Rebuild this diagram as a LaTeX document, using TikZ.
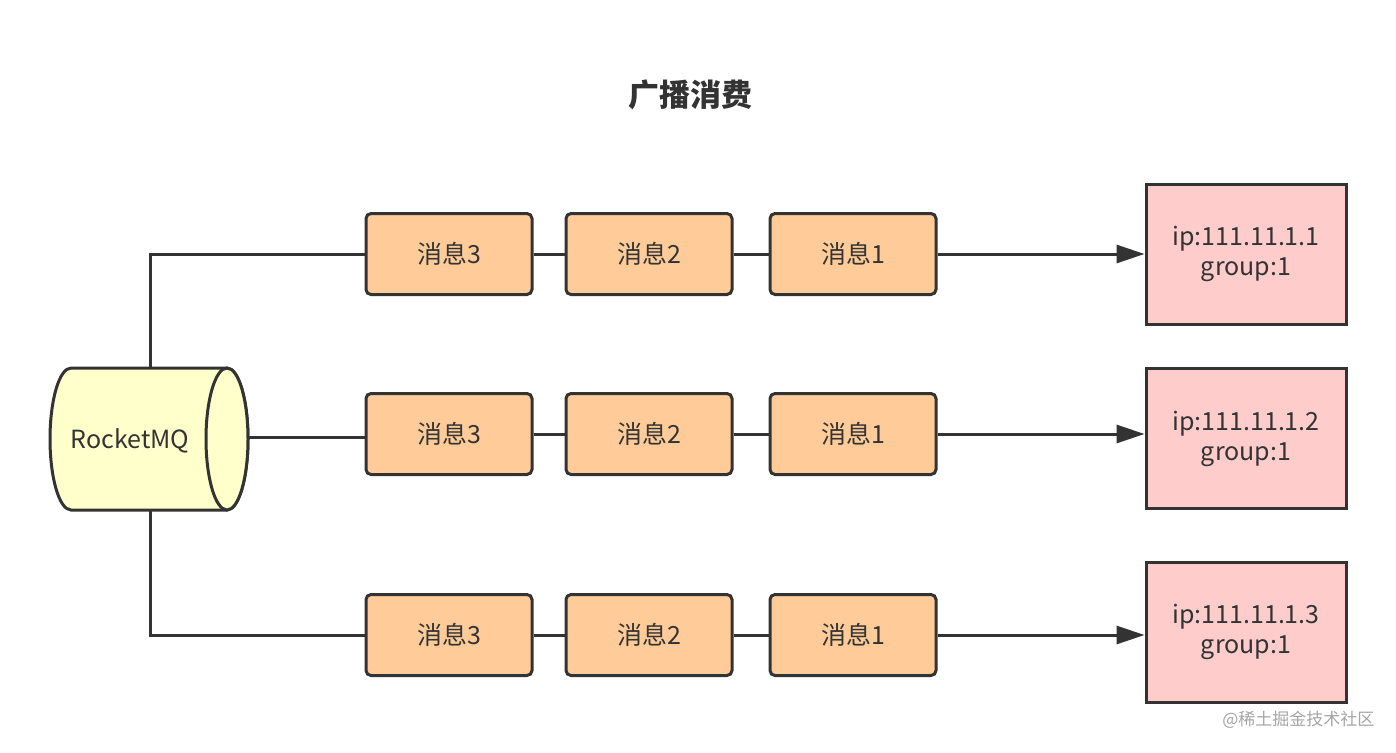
\documentclass[tikz,border=0pt]{standalone}
\usepackage{fontspec}
\setmainfont{Noto Sans CJK SC}
\usetikzlibrary{arrows.meta}
\definecolor{msg}{HTML}{FFCC99}
\definecolor{cons}{HTML}{FFCCCC}
\definecolor{mq}{HTML}{FFFFCC}
\definecolor{ln}{HTML}{333333}
\begin{document}
\begin{tikzpicture}[x=1pt,y=-1pt,
  msgbox/.style={draw=ln,line width=3pt,fill=msg,rounded corners=5pt,minimum width=166pt,minimum height=81pt,font=\fontsize{25}{29}\selectfont,text=ln},
  consbox/.style={draw=ln,line width=3pt,fill=cons,minimum width=200pt,minimum height=140pt,font=\fontsize{25}{30}\selectfont,text=ln,align=center},
  wire/.style={draw=ln,line width=3pt},
  arr/.style={wire,-{Triangle[length=28pt,width=18pt]}}]
\useasboundingbox[fill=white] (0,0) rectangle (1396,752);
\node[font=\bfseries\fontsize{31}{34}\selectfont,text=ln] (title) at (690,95) {广播消费};
% cylinder
\path[fill=mq,draw=ln,line width=3pt] (71,368) -- (227,368) arc[start angle=-90,end angle=90,x radius=21,y radius=71] -- (71,510) arc[start angle=90,end angle=270,x radius=21,y radius=71] -- cycle;
\draw[fill=mq,draw=ln,line width=3pt] (227,439) ellipse[x radius=21,y radius=71];
\node[font=\fontsize{25}{29}\selectfont,text=ln] (mq) at (130,441) {RocketMQ};
\coordinate (mqt) at (150,368);
\coordinate (mqb) at (150,510);
\coordinate (mqr) at (248,437);
\foreach \r/\y in {1/254,2/434,3/635}{
  \node[msgbox] (a\r) at (449,\y) {消息3};
  \node[msgbox] (b\r) at (649,\y) {消息2};
  \node[msgbox] (c\r) at (853,\y) {消息1};
  \draw[wire] (a\r) -- (b\r);
  \draw[wire] (b\r) -- (c\r);
}
\node[consbox] (p1) at (1246,254) {ip:111.11.1.1\\group:1};
\node[consbox] (p2) at (1246,438.5) {ip:111.11.1.2\\group:1};
\node[consbox] (p3) at (1246,632) {ip:111.11.1.3\\group:1};
\draw[arr] (c1.east) -- (c1.east -| p1.west);
\draw[arr] (c2.east) -- (c2.east -| p2.west);
\draw[arr] (c3.east) -- (c3.east -| p3.west);
\draw[wire] (mqt) |- (a1.west);
\draw[wire] (mqr) -- (mqr -| a2.west);
\draw[wire] (mqb) |- (a3.west);
\node[font=\fontsize{17}{20}\selectfont,text=gray!70,anchor=east] (wm) at (1378,720) {@稀土掘金技术社区};
\end{tikzpicture}
\end{document}
